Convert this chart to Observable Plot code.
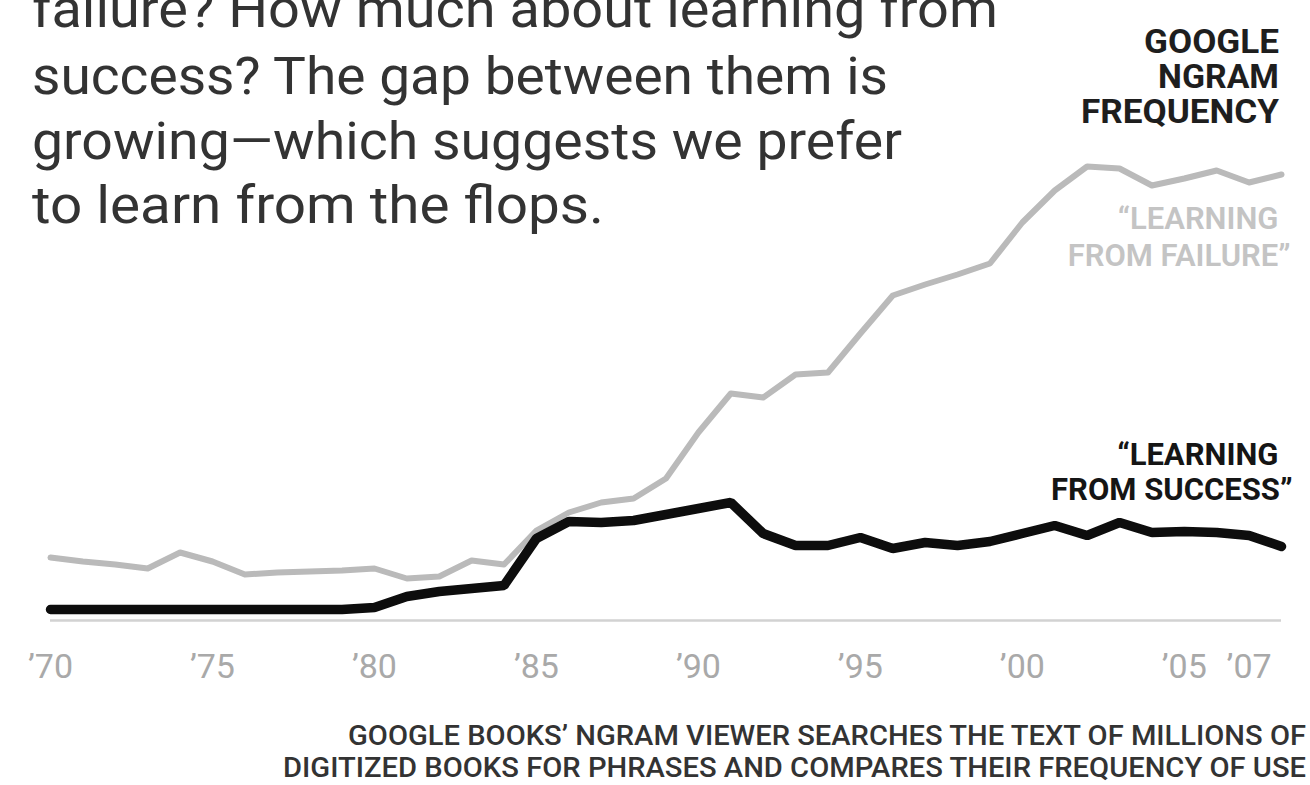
<!DOCTYPE html>
<html>
<head>
<meta charset="utf-8">
<script src="https://cdn.jsdelivr.net/npm/d3@7"></script>
<script src="https://cdn.jsdelivr.net/npm/@observablehq/plot@0.6"></script>
<style>
  html, body { margin: 0; padding: 0; background: #fff; }
  #wrap { position: relative; width: 1310px; height: 785px; overflow: hidden; background: #fff; }
</style>
</head>
<body>
<div id="wrap"></div>
<script>
// ---- data ----
const years = [1970,1971,1972,1973,1974,1975,1976,1977,1978,1979,
               1980,1981,1982,1983,1984,1985,1986,1987,1988,1989,
               1990,1991,1992,1993,1994,1995,1996,1997,1998,1999,
               2000,2001,2002,2003,2004,2005,2006,2007,2008];
const failure = [6.3,5.9,5.6,5.2,6.8,5.9,4.6,4.8,4.9,5.0,
                 5.2,4.2,4.4,6.0,5.6,9.0,10.8,11.8,12.2,14.2,
                 18.8,22.7,22.3,24.6,24.8,28.7,32.5,33.6,34.6,35.7,
                 39.8,43.0,45.4,45.2,43.5,44.2,45.0,43.8,44.6];
const success = [1.1,1.1,1.1,1.1,1.1,1.1,1.1,1.1,1.1,1.1,
                 1.3,2.4,2.9,3.2,3.5,8.2,9.9,9.8,10.0,10.6,
                 11.2,11.8,8.7,7.5,7.5,8.3,7.2,7.8,7.5,7.9,
                 8.7,9.5,8.5,9.8,8.8,8.9,8.8,8.5,7.4];
const tickYears = [1970,1975,1980,1985,1990,1995,2000,2005,2007];
const headlineLines = [
  "failure? How much about learning from",
  "success? The gap between them is",
  "growing\u2014which suggests we prefer",
  "to learn from the flops."
];
const headerLines = ["GOOGLE", "NGRAM", "FREQUENCY"];
const failureLabel = ["\u201CLEARNING", "FROM FAILURE\u201D"];
const successLabel = ["\u201CLEARNING", "FROM SUCCESS\u201D"];
const captionLines = [
  "GOOGLE BOOKS\u2019 NGRAM VIEWER SEARCHES THE TEXT OF MILLIONS OF",
  "DIGITIZED BOOKS FOR PHRASES AND COMPARES THEIR FREQUENCY OF USE"
];

// ---- table built from the arrays ----
const failureRows = years.map((year, i) => ({year, value: failure[i]}));
const successRows = years.map((year, i) => ({year, value: success[i]}));
const lastFailure = failureRows[failureRows.length - 1];
const lastSuccess = successRows[successRows.length - 1];

const FONT = "Roboto, 'DejaVu Sans', sans-serif";

const svg = Plot.plot({
  width: 1310,
  height: 785,
  marginLeft: 50,
  marginRight: 29,
  marginTop: 160,
  marginBottom: 165,
  style: {fontFamily: FONT, background: "#fff"},
  x: {domain: [1970, 2008], label: null},
  y: {domain: [0, 46], axis: null},
  marks: [
    Plot.ruleY([0], {stroke: "#d2d2d2", strokeWidth: 2.5}),
    Plot.axisX({
      ticks: tickYears,
      tickFormat: d => "\u2019" + String(d).slice(2),
      tickSize: 0,
      tickPadding: 33,
      fontSize: 34,
      color: "#a9a9a9",
      label: null
    }),
    Plot.line(failureRows, {x: "year", y: "value", stroke: "#bababa", strokeWidth: 6, strokeLinejoin: "round", strokeLinecap: "round"}),
    Plot.line(successRows, {x: "year", y: "value", stroke: "#0d0d0d", strokeWidth: 9.5, strokeLinejoin: "miter"}),
    Plot.text([lastFailure], {x: "year", y: "value", text: () => failureLabel[0], textAnchor: "end", dx: -3, dy: 45, fontSize: 31, fontWeight: 600, fill: "#c4c4c4"}),
    Plot.text([lastFailure], {x: "year", y: "value", text: () => failureLabel[1], textAnchor: "end", dx: 9, dy: 82, fontSize: 31, fontWeight: 600, fill: "#c4c4c4"}),
    Plot.text([lastSuccess], {x: "year", y: "value", text: () => successLabel[0], textAnchor: "end", dx: -3, dy: -91, fontSize: 31, fontWeight: 700, fill: "#151515"}),
    Plot.text([lastSuccess], {x: "year", y: "value", text: () => successLabel[1], textAnchor: "end", dx: 11, dy: -56, fontSize: 31, fontWeight: 700, fill: "#151515"})
  ]
});

document.getElementById("wrap").appendChild(svg);

const s = d3.select(svg);
const g = s.append("g").attr("text-anchor", "start").attr("font-family", FONT);

// headline
const headX = 32, headBase = [27, 94, 159, 223], headLen = [966, 856, 870, 572];
headlineLines.forEach((t, i) => {
  g.append("text")
    .attr("x", headX).attr("y", headBase[i])
    .attr("text-anchor", "start")
    .attr("font-size", 51)
    .attr("fill", "#333")
    .attr("textLength", headLen[i]).attr("lengthAdjust", "spacingAndGlyphs")
    .text(t);
});

// header
const hdrBase = [53, 88, 123], hdrLen = [135, 121, 198];
headerLines.forEach((t, i) => {
  g.append("text")
    .attr("x", 1279 - hdrLen[i]).attr("y", hdrBase[i])
    .attr("text-anchor", "start")
    .attr("font-size", 33).attr("font-weight", 700)
    .attr("fill", "#1e1e1e")
    .attr("textLength", hdrLen[i]).attr("lengthAdjust", "spacingAndGlyphs")
    .text(t);
});

// caption
const capX = [348, 283], capBase = [745, 777], capLen = [958, 1023];
captionLines.forEach((t, i) => {
  g.append("text")
    .attr("x", capX[i]).attr("y", capBase[i])
    .attr("text-anchor", "start")
    .attr("font-size", 27).attr("font-weight", 500)
    .attr("fill", "#333")
    .attr("textLength", capLen[i]).attr("lengthAdjust", "spacingAndGlyphs")
    .text(t);
});
</script>
</body>
</html>
